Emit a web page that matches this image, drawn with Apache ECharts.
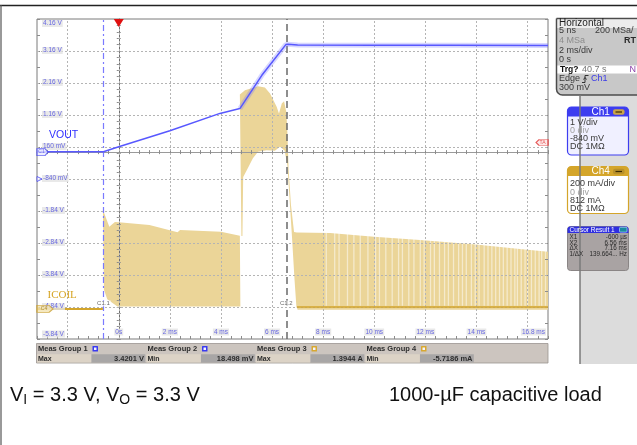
<!DOCTYPE html>
<html><head><meta charset="utf-8">
<script src="https://cdn.jsdelivr.net/npm/echarts@6/dist/echarts.min.js"></script>
<style>html,body{margin:0;padding:0;background:#fff}#c{width:637px;height:445px}</style>
</head><body><div id="c"></div>
<script>
// ---------------- data ----------------
const xGridValues = [-2, 0, 2, 4, 6, 8, 10, 12, 14, 16];
const xTickValues = [0, 2, 4, 6, 8, 10, 12, 14, 16.8];
const xTickLabels = ['0s', '2 ms', '4 ms', '6 ms', '8 ms', '10 ms', '12 ms', '14 ms', '16.8 ms'];
const ch1TickValues = [4.16, 3.16, 2.16, 1.16, 0.16, -0.84, -1.84, -2.84, -3.84, -4.84, -5.84];
const ch1TickLabels = ['4.16 V', '3.16 V', '2.16 V', '1.16 V', '160 mV', '-840 mV', '-1.84 V', '-2.84 V', '-3.84 V', '-4.84 V', '-5.84 V'];

// VOUT (Ch1, volts) vs time (ms)
const voutTime  = [-3.2, -0.6, 0.0, 2.0, 3.96, 4.74, 5.6, 6.54, 6.62, 7.0, 10.0, 13.0, 16.8];
const voutVolts = [0.01, 0.01, 0.17, 0.67, 1.21, 1.36, 2.40, 3.36, 3.37, 3.35, 3.34, 3.34, 3.33];

// ICOIL (Ch4, amps) vs time (ms)
const icoilBaseTime = [-3.2, -0.62];
const icoilBaseAmps = [0.0, 0.0];
// outline of the switching envelope while VOUT ramps (closed polygon)
const icoilRampTime = [-0.62, -0.37, -0.15, 0.0, 1.2, 2.3, 2.4, 4.0, 4.74, 4.76, -0.05, -0.45, -0.58];
const icoilRampAmps = [0.62, 0.513, 0.544, 0.542, 0.524, 0.479, 0.493, 0.482, 0.457, 0.015, 0.015, 0.06, 0.12];
// outline of the high-current burst and the following decay (closed polygon)
const icoilBurstTime = [4.80, 4.74, 4.94, 5.45, 5.72, 5.92, 6.18, 6.27, 6.38, 6.47, 6.56, 6.60, 6.65, 6.74, 6.86,
                        6.97, 8.27, 9.99, 11.79, 13.98, 15.70, 16.80, 16.80, 7.0, 6.95, 6.88, 6.78, 6.68, 6.60,
                        6.49, 6.31, 6.11, 5.79, 5.45, 5.25, 5.01, 4.87, 4.84];
const icoilBurstAmps = [0.455, 1.340, 1.367, 1.392, 1.384, 1.346, 1.263, 1.221, 1.284, 1.298, 1.229, 1.098, 0.867, 0.649, 0.480,
                        0.478, 0.474, 0.451, 0.430, 0.403, 0.374, 0.357, -0.005, -0.005, 0.02, 0.18, 0.45, 0.70, 0.90,
                        0.99, 1.013, 0.988, 0.992, 0.982, 0.942, 0.867, 0.825, 0.455];
const icoilFloorTime = [6.97, 16.8];
const icoilFloorAmps = [0.012, 0.012];
// skipped-pulse gaps (lighter vertical stripes)
const icoilGapTime = [8.12, 8.45, 8.62, 8.95, 9.2, 9.45, 9.75, 10.05, 10.2, 10.45, 10.7, 10.95, 11.1, 11.35, 11.55,
                      11.8, 11.95, 12.2, 12.35, 12.55, 12.75, 12.9, 13.1, 13.3, 13.45, 13.6, 13.8, 13.95, 14.1, 14.3,
                      14.45, 14.6, 14.75, 14.9, 15.05, 15.2, 15.35, 15.5, 15.6, 15.75, 15.9, 16.0, 16.15, 16.3, 16.45, 16.55, 16.7];

const cursorTimes = [-0.6, 6.56];
const cursorNames = ['C1.1', 'C1.2'];
const triggerTime = 0;
const triggerLevel = 0.3;

const measNames  = ['Meas Group 1', 'Meas Group 2', 'Meas Group 3', 'Meas Group 4'];
const measKinds  = ['Max', 'Min', 'Max', 'Min'];
const measValues = ['3.4201 V', '18.498 mV', '1.3944 A', '-5.7186 mA'];
const measChan   = [1, 1, 4, 4];

// ---------------- styles ----------------
const BLUE = '#5858ff';
const FILL = '#ebd598';
const GOLD = '#d3a52c';
const LBLUE = '#3a3ae8';
const FONT = 'Liberation Sans, Arial, sans-serif';

function polygonSeries(ts, vs) {
  const pts = ts.map((t, i) => [t, vs[i]]);
  return {
    type: 'custom', xAxisIndex: 0, yAxisIndex: 1, z: 2, silent: true, animation: false,
    data: pts,
    renderItem: function (params, api) {
      if (params.dataIndex !== 0) return null;
      return { type: 'polygon', shape: { points: pts.map(p => api.coord(p)) }, style: { fill: FILL } };
    }
  };
}

const series = [];
series.push(polygonSeries(icoilRampTime, icoilRampAmps));
series.push(polygonSeries(icoilBurstTime, icoilBurstAmps));
series.push({
  type: 'custom', xAxisIndex: 0, yAxisIndex: 1, z: 3, silent: true, animation: false,
  data: icoilGapTime.map(t => [t, 0]),
  renderItem: function (params, api) {
    const t = api.value(0);
    const a = api.coord([t, 0.02]);
    const b = api.coord([t, 0.49]);
    return { type: 'rect', shape: { x: a[0] - 0.6, y: b[1], width: 1.3, height: a[1] - b[1] }, style: { fill: 'rgba(255,255,255,0.5)' } };
  }
});
// gridlines
series.push({
  type: 'line', xAxisIndex: 0, yAxisIndex: 0, data: [], z: 4, silent: true,
  markLine: {
    silent: true, symbol: 'none', animation: false, label: { show: false },
    lineStyle: { color: '#b4b4b4', type: [2, 2], width: 1 },
    data: xGridValues.map(v => ({ xAxis: v })).concat(ch1TickValues.slice(1, -1).map(v => ({ yAxis: v })))
  }
});
series.push({
  type: 'line', xAxisIndex: 0, yAxisIndex: 1, z: 5, showSymbol: false, silent: true,
  data: icoilBaseTime.map((t, i) => [t, icoilBaseAmps[i]]),
  lineStyle: { color: GOLD, width: 2 }
});
series.push({
  type: 'line', xAxisIndex: 0, yAxisIndex: 1, z: 5, showSymbol: false, silent: true,
  data: icoilFloorTime.map((t, i) => [t, icoilFloorAmps[i]]),
  lineStyle: { color: GOLD, width: 1.6 }
});
series.push({
  type: 'line', xAxisIndex: 0, yAxisIndex: 0, z: 6, showSymbol: false, silent: true,
  data: voutTime.map((t, i) => [t, voutVolts[i]]).filter(p => p[0] >= 4.74),
  lineStyle: { color: 'rgba(110,110,255,0.28)', width: 5 }
});
series.push({
  type: 'line', xAxisIndex: 0, yAxisIndex: 0, z: 7, showSymbol: false, silent: true,
  data: voutTime.map((t, i) => [t, voutVolts[i]]),
  lineStyle: { color: BLUE, width: 1.5 },
  markPoint: {
    silent: true, animation: false,
    data: [{ coord: [triggerTime, ch1TickValues[0]], symbol: 'triangle', symbolRotate: 180, symbolSize: [10, 8], symbolOffset: [0, 4], itemStyle: { color: '#e01010' }, label: { show: false } }]
  }
});
// cursors
series.push({
  type: 'line', xAxisIndex: 0, yAxisIndex: 0, data: [], z: 8, silent: true,
  markLine: {
    silent: true, symbol: 'none', animation: false, label: { show: false },
    data: [
      { xAxis: cursorTimes[0], lineStyle: { color: '#7a7aff', type: [6, 3, 2, 3], width: 1.2 } },
      { xAxis: cursorTimes[1], lineStyle: { color: '#6a6a6a', type: [7, 4], width: 1.5 } }
    ]
  }
});
// cursor labels
series.push({
  type: 'scatter', xAxisIndex: 0, yAxisIndex: 0, z: 9, silent: true, symbolSize: 0, clip: false,
  data: cursorTimes.map((t, i) => ({ value: [t, -4.73], label: { formatter: cursorNames[i] } })),
  label: { show: true, position: 'inside', fontSize: 6, fontFamily: FONT, color: '#444', backgroundColor: 'rgba(255,255,255,0.85)', padding: [0, 1] }
});
// x tick labels
series.push({
  type: 'scatter', xAxisIndex: 0, yAxisIndex: 0, z: 9, silent: true, symbolSize: 0, clip: false,
  data: xTickValues.map((t, i) => ({
    value: [t, ch1TickValues[ch1TickValues.length - 1]],
    label: { formatter: xTickLabels[i], align: i === xTickValues.length - 1 ? 'right' : 'center', offset: [i === xTickValues.length - 1 ? -2 : 0, -7] }
  })),
  label: { show: true, position: 'inside', fontSize: 6.5, fontFamily: FONT, color: '#4646e0', backgroundColor: '#e4e4e4', padding: [0, 1] }
});
// y tick labels
series.push({
  type: 'scatter', xAxisIndex: 0, yAxisIndex: 0, z: 9, silent: true, symbolSize: 0, clip: false,
  data: ch1TickValues.map((v, i) => ({
    value: [-3.2, v],
    label: { formatter: ch1TickLabels[i], offset: [0, i === 0 ? 4.5 : (i === ch1TickValues.length - 1 ? -5 : -0.5)] }
  })),
  label: { show: true, position: 'right', distance: 5, fontSize: 6.5, fontFamily: FONT, color: '#4646e0', backgroundColor: '#e4e4e4', padding: [0, 1] }
});
// channel markers & trigger level
series.push({
  type: 'scatter', xAxisIndex: 0, yAxisIndex: 0, z: 10, silent: true, clip: false,
  data: [
    { value: [-3.2, 0], symbol: 'path://M0,0 L8,0 L11,3.5 L8,7 L0,7 Z', symbolSize: [11, 7], symbolOffset: [5.5, 0],
      itemStyle: { color: '#eaeaff', borderColor: '#4646f0', borderWidth: 1 },
      label: { show: true, formatter: 'C1', position: 'inside', offset: [-1, 0], fontSize: 5, color: '#4646f0' } },
    { value: [-3.2, ch1TickValues[5]], symbol: 'triangle', symbolRotate: -90, symbolSize: 5, symbolOffset: [2.5, 0],
      itemStyle: { color: '#ffffff', borderColor: '#4646f0', borderWidth: 1 } },
    { value: [16.8, triggerLevel], symbol: 'path://M3,0 L12,0 L12,6 L3,6 L0,3 Z', symbolSize: [12, 6], symbolOffset: [-6, 0],
      itemStyle: { color: '#fde4e4', borderColor: '#e03030', borderWidth: 1 },
      label: { show: true, formatter: 'TA', position: 'inside', offset: [0.5, 0], fontSize: 5, color: '#e03030' } }
  ]
});
series.push({
  type: 'scatter', xAxisIndex: 0, yAxisIndex: 1, z: 10, silent: true, clip: false,
  data: [
    { value: [-3.2, 0], symbol: 'path://M0,0 L12,0 L16,3.5 L12,7 L0,7 Z', symbolSize: [16, 7], symbolOffset: [8, 0],
      itemStyle: { color: '#f3e2b0', borderColor: '#c9a035', borderWidth: 1 },
      label: { show: true, formatter: 'C4', position: 'inside', offset: [-1, 0], fontSize: 5, color: '#a07a10' } }
  ]
});

// ---------------- graphics (scope UI) ----------------
const g = [];
function txt(x, y, s, o) {
  o = o || {};
  g.push({ type: 'text', x: x, y: y, z: 100, silent: true,
    style: { text: s, fill: o.color || '#3a3a3a', font: (o.weight || 'normal') + ' ' + (o.size || 9) + 'px ' + FONT,
             textAlign: o.align || 'left', textVerticalAlign: 'middle', verticalAlign: 'middle' } });
}
function rect(x, y, w, h, fill, stroke, lw, r) {
  g.push({ type: 'rect', z: 90, silent: true, shape: { x: x, y: y, width: w, height: h, r: r || 0 },
    style: { fill: fill, stroke: stroke || null, lineWidth: lw || 0 } });
}
function line(x1, y1, x2, y2, stroke, lw) {
  g.push({ type: 'line', z: 95, silent: true, shape: { x1: x1, y1: y1, x2: x2, y2: y2 }, style: { stroke: stroke, lineWidth: lw || 1 } });
}
// frame
line(0, 5.5, 637, 5.5, '#222', 1.3);
line(1, 5, 1, 445, '#555', 1.2);
// right panel
rect(580, 95, 57, 269, '#dcdcdc');
line(580, 95, 580, 364, '#7a7a7a', 1.5);
// Horizontal box
rect(556.5, 18.5, 90, 76.5, '#c8c8c8', '#4c4c4c', 1.5, [0, 0, 0, 6]);
rect(557.5, 19.5, 80, 8.5, '#ececec');
rect(557.5, 65.5, 80, 8, '#ffffff');
txt(559, 23.5, 'Horizontal', { size: 10, color: '#1e1e1e' });
txt(559, 31, '5 ns', {});
txt(595, 31, '200 MSa/', {});
txt(559, 40.7, '4 MSa', { color: '#8c8c8c' });
txt(636, 40.7, 'RT', { align: 'right', weight: 'bold', color: '#2a2a2a' });
txt(559, 50.7, '2 ms/div', {});
txt(559, 60, '0 s', {});
txt(560, 69.5, 'Trg?', { weight: 'bold', color: '#111', size: 8.5 });
txt(582, 69.5, '40.7 s', { color: '#777' });
txt(636, 69.5, 'N', { align: 'right', color: '#8a3fa8' });
txt(559, 79, 'Edge', {});
g.push({ type: 'polyline', z: 100, silent: true, shape: { points: [[582, 82.5], [585, 82.5], [585, 75.5], [588.5, 75.5]] }, style: { stroke: '#333', lineWidth: 1, fill: null } });
line(583.5, 79.5, 585, 77.5, '#333', 1);
line(586.5, 79.5, 585, 77.5, '#333', 1);
txt(591, 79, 'Ch1', { color: LBLUE });
txt(559, 87.5, '300 mV', {});
// Ch1 box
rect(567.5, 107, 61, 48, '#f0f0ff', '#3d3df0', 1.2, 4);
rect(567.5, 107, 61, 9.5, '#3d3df0', null, 0, [4, 4, 0, 0]);
txt(591.5, 112, 'Ch1', { color: '#ffffff', size: 10 });
rect(613, 109.3, 11.5, 5.5, '#caa548', null, 0, 2);
line(615.5, 112, 622, 112, '#3a2a00', 1.2);
txt(570, 122.7, '1 V/div', {});
txt(570, 130.5, '0 div', { color: '#a0a0a0' });
txt(570, 138.5, '-840 mV', {});
txt(570, 146.7, 'DC 1MΩ', {});
// Ch4 box
rect(567.5, 166.5, 61, 47, '#ffffff', '#d4a52a', 1.2, 4);
rect(567.5, 166.5, 61, 9.5, '#d4a52a', null, 0, [4, 4, 0, 0]);
txt(591.5, 171.5, 'Ch4', { color: '#ffffff', size: 10 });
rect(613, 168.8, 11.5, 5.5, '#b8902a', null, 0, 2);
line(615.5, 171.5, 622, 171.5, '#3a2a00', 1.2);
txt(570, 184, '200 mA/div', {});
txt(570, 192.3, '0 div', { color: '#a0a0a0' });
txt(570, 200.5, '812 mA', {});
txt(570, 208.7, 'DC 1MΩ', {});
// Cursor result box
rect(567.5, 226.5, 61, 44, '#a9a3a3', '#8a8585', 1, 3);
rect(567.5, 226.5, 61, 6.5, '#2f2fe0', null, 0, [3, 3, 0, 0]);
txt(569.5, 229.8, 'Cursor Result 1', { color: '#ffffff', size: 6.5 });
rect(619.5, 227.3, 7.5, 4.8, '#1a8aa0', '#c0f0ff', 0.6, 1);
const crN = ['X1', 'X2', 'ΔX', '1/ΔX'];
const crV = ['-600 µs', '6.56 ms', '7.16 ms', '139.664... Hz'];
const crY = [237.3, 242.8, 248.3, 254];
crN.forEach((n, i) => { txt(569.5, crY[i], n, { size: 6.3, color: '#2a2a2a' }); txt(627, crY[i], crV[i], { size: 6.3, color: '#2a2a2a', align: 'right' }); });
// Measurement bar
rect(36.5, 343.5, 511.5, 19.5, '#ccc5bf', '#9a9490', 0.8);
measNames.forEach((n, i) => {
  const x0 = 36.5 + i * 109.5;
  txt(x0 + 1.5, 348.7, n, { size: 7.5, weight: 'bold', color: '#2c2c2c' });
  const ic = measChan[i] === 1 ? '#3a3af0' : '#d8a830';
  rect(x0 + 56, 346, 5.5, 5.5, ic, null, 0, 0.5);
  rect(x0 + 57.5, 347.5, 2.5, 2.5, '#f4f4ff');
  rect(x0 + 0.5, 354.3, 54.3, 8.2, '#dcd3c6');
  rect(x0 + 55, 354.3, 53.8, 8.2, '#a8a6a6');
  txt(x0 + 1.5, 358.6, measKinds[i], { size: 7, weight: 'bold', color: '#2c2c2c' });
  txt(x0 + 107.5, 358.6, measValues[i], { size: 7.5, weight: 'bold', color: '#2c2c2c', align: 'right' });
});
// trace names
txt(49, 135.5, 'VOUT', { size: 10.5, color: '#3030ff' });
g.push({ type: 'text', x: 47.5, y: 295.5, z: 100, silent: true, style: { text: 'ICOIL', fill: '#d6a424', font: '11px Liberation Serif, serif', textVerticalAlign: 'middle', verticalAlign: 'middle' } });
// captions
g.push({ type: 'text', x: 10, y: 383, z: 100, silent: true, style: {
  text: '{n|V}{s|I}{n| = 3.3 V, V}{s|O}{n| = 3.3 V}',
  rich: { n: { fontSize: 20, fontFamily: FONT, fill: '#111', color: '#111', lineHeight: 24 },
          s: { fontSize: 14, fontFamily: FONT, fill: '#111', color: '#111', lineHeight: 11, verticalAlign: 'bottom' } } } });
g.push({ type: 'text', x: 389, y: 383, z: 100, silent: true, style: {
  text: '{n|1000-µF capacitive load}',
  rich: { n: { fontSize: 20, fontFamily: FONT, fill: '#111', color: '#111', lineHeight: 24 } } } });

// ---------------- axes ----------------
const tickStyle = { color: '#8c8c8c', width: 1 };
const option = {
  animation: false,
  backgroundColor: '#ffffff',
  grid: { left: 37, top: 19, width: 511, height: 320, show: true, borderColor: '#7a7a7a', borderWidth: 1, backgroundColor: '#ffffff' },
  xAxis: [
    { type: 'value', min: -3.2, max: 16.8, interval: 0.4, position: 'bottom', z: 4,
      axisLine: { show: true, onZero: true, onZeroAxisIndex: 0, lineStyle: { color: '#9a9a9a', width: 1 } },
      axisTick: { show: true, length: 2, lineStyle: tickStyle }, axisLabel: { show: false }, splitLine: { show: false } },
    { type: 'value', min: -3.2, max: 16.8, interval: 0.4, position: 'top', z: 4,
      axisLine: { show: false, onZero: true, onZeroAxisIndex: 0 },
      axisTick: { show: true, length: 2, lineStyle: tickStyle }, axisLabel: { show: false }, splitLine: { show: false } },
    { type: 'value', min: -3.2, max: 16.8, interval: 0.4, position: 'bottom', z: 4,
      axisLine: { show: false, onZero: false },
      axisTick: { show: true, inside: true, length: 3, lineStyle: tickStyle }, axisLabel: { show: false }, splitLine: { show: false } }
  ],
  yAxis: [
    { type: 'value', min: -5.84, max: 4.16, show: false, splitLine: { show: false } },
    { type: 'value', min: -0.188, max: 1.812, show: false, splitLine: { show: false } },
    { type: 'value', min: -5, max: 5, interval: 0.2, position: 'left', z: 4,
      axisLine: { show: true, onZero: true, onZeroAxisIndex: 0, lineStyle: { color: '#6e6e6e', width: 1 } },
      axisTick: { show: true, length: 2, lineStyle: tickStyle }, axisLabel: { show: false }, splitLine: { show: false } },
    { type: 'value', min: -5, max: 5, interval: 0.2, position: 'right', z: 4,
      axisLine: { show: false, onZero: true, onZeroAxisIndex: 0 },
      axisTick: { show: true, length: 2, lineStyle: tickStyle }, axisLabel: { show: false }, splitLine: { show: false } },
    { type: 'value', min: -5, max: 5, interval: 0.5, position: 'left', z: 4,
      axisLine: { show: false, onZero: false },
      axisTick: { show: true, inside: true, length: 3, lineStyle: tickStyle }, axisLabel: { show: false }, splitLine: { show: false } },
    { type: 'value', min: -5, max: 5, interval: 0.5, position: 'right', z: 4,
      axisLine: { show: false, onZero: false },
      axisTick: { show: true, inside: true, length: 3, lineStyle: tickStyle }, axisLabel: { show: false }, splitLine: { show: false } }
  ],
  series: series,
  graphic: { elements: g }
};
const chart = echarts.init(document.getElementById('c'), null, { renderer: 'canvas', width: 637, height: 445 });
chart.setOption(option);
</script>
</body></html>
